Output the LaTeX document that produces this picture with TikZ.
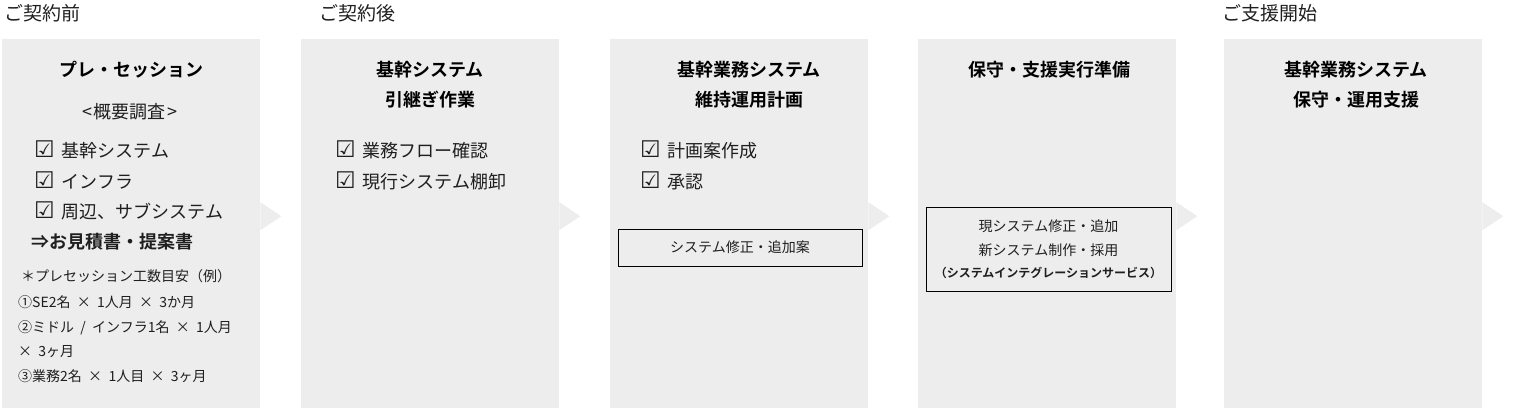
\documentclass[tikz,border=0pt]{standalone}
\usepackage{fontspec}
\setmainfont{Noto Sans CJK JP}[BoldFont = {* Bold}]
\newfontfamily\notefont{Noto Sans CJK JP}[WordSpace = 2]
\newfontfamily\symfont{DejaVu Sans}
\usetikzlibrary{positioning}
\definecolor{panelgray}{HTML}{EDEDED}
\definecolor{inkgray}{HTML}{1F1F1F}
\newcommand{\chk}{{\symfont\fontsize{23}{24}\selectfont ☑}\hspace{7pt}}
\tikzset{
	every node/.style = {text = inkgray},
	panel/.style = {rectangle, fill = panelgray, minimum width = 258pt, minimum height = 369pt, anchor = north west, inner sep = 0pt},
	notch/.style = {fill = panelgray},
	phase/.style = {anchor = base west, inner sep = 0pt, font = {\fontsize{19}{20}\selectfont}},
	title/.style = {anchor = base, inner sep = 0pt, text = black, font = {\bfseries\fontsize{18}{20}\selectfont}},
	item/.style = {anchor = base west, inner sep = 0pt, font = {\fontsize{18}{20}\selectfont}},
	note/.style = {anchor = base west, inner sep = 0pt, font = {\notefont\fontsize{14}{16}\selectfont}},
	plan/.style = {rectangle, draw = black, line width = 0.9pt, inner sep = 0pt, align = center, font = {\fontsize{14}{24}\selectfont}}
}

\begin{document}
\begin{tikzpicture}[x = 1pt, y = -1pt]
	\useasboundingbox (0,0) rectangle (1522,408);

	%%%%%%%% panels %%%%%%%%
	\node (p1) [panel] at (2,39) {};
	\node (p2) [panel] at (301,39) {};
	\node (p3) [panel] at (610,39) {};
	\node (p4) [panel] at (918,39) {};
	\node (p5) [panel] at (1224,39) {};
	% notches
	\fill [notch] ([yshift=21.5pt]p1.east) -- ([xshift=21pt, yshift=7.5pt]p1.east) -- ([yshift=-6.5pt]p1.east) -- cycle;
	\fill [notch] ([yshift=21.5pt]p2.east) -- ([xshift=21pt, yshift=7.5pt]p2.east) -- ([yshift=-6.5pt]p2.east) -- cycle;
	\fill [notch] ([yshift=21.5pt]p3.east) -- ([xshift=21pt, yshift=7.5pt]p3.east) -- ([yshift=-6.5pt]p3.east) -- cycle;
	\fill [notch] ([yshift=21.5pt]p4.east) -- ([xshift=21pt, yshift=7.5pt]p4.east) -- ([yshift=-6.5pt]p4.east) -- cycle;
	\fill [notch] ([yshift=21.5pt]p5.east) -- ([xshift=21pt, yshift=7.5pt]p5.east) -- ([yshift=-6.5pt]p5.east) -- cycle;

	%% phase labels
	\node (before) [phase] at (4,20) {ご契約前};
	\node (after) [phase] at (319,20) {ご契約後};
	\node (start) [phase] at (1222,20) {ご支援開始};

	%%%%%%%% 1st panel: pre-session %%%%%%%%
	\node (presession) [title] at (131,76) {プレ・セッション};
	\node (survey) [item, anchor = base] at (130,118) {<\hspace{2pt}概要調査\hspace{2pt}>};
	\node (core) [item] at (34,157) {\chk 基幹システム};
	\node (infra) [item] at (34,188) {\chk インフラ};
	\node (sub) [item] at (34,218) {\chk 周辺、サブシステム};
	\node (quote) [item, font = {\bfseries\fontsize{18}{20}\selectfont}] at (31,248) {⇒お見積書・提案書};
	% effort notes
	\node (effort) [note] at (21,281) {＊プレセッション工数目安（例）};
	\node (se) [note] at (18,307) {①SE2名 × 1人月 × 3か月};
	\node (middle) [note] at (18,332) {②ミドル / インフラ1名 × 1人月};
	\node (middle2) [note] at (18,356) {× 3ヶ月};
	\node (biz) [note] at (18,381) {③業務2名 × 1人目 × 3ヶ月};

	%%%%%%%% 2nd panel: handover %%%%%%%%
	\node (handover) [title] at (430,76) {基幹システム};
	\node (handover2) [title] at (430,106) {引継ぎ作業};
	\node (flow) [item] at (335,157) {\chk 業務フロー確認};
	\node (stock) [item] at (335,188) {\chk 現行システム棚卸};

	%%%%%%%% 3rd panel: maintenance plan %%%%%%%%
	\node (plan) [title] at (749,76) {基幹業務システム};
	\node (plan2) [title] at (749,106) {維持運用計画};
	\node (draft) [item] at (640,157) {\chk 計画案作成};
	\node (approve) [item] at (640,188) {\chk 承認};
	\node (fixplan) [plan, minimum width = 244pt, minimum height = 37pt] at (740,247.5) {システム修正・追加案};

	%%%%%%%% 4th panel: preparation %%%%%%%%
	\node (prep) [title] at (1049,76) {保守・支援実行準備};
	\node (si) [plan, minimum width = 245pt, minimum height = 84pt] at (1048.5,249) {現システム修正・追加\\新システム制作・採用\\[-2pt]{\bfseries\fontsize{12}{14}\selectfont （システムインテグレーションサービス）}};

	%%%%%%%% 5th panel: support %%%%%%%%
	\node (support) [title] at (1356,76) {基幹業務システム};
	\node (support2) [title] at (1356,106) {保守・運用支援};
\end{tikzpicture}
\end{document}
